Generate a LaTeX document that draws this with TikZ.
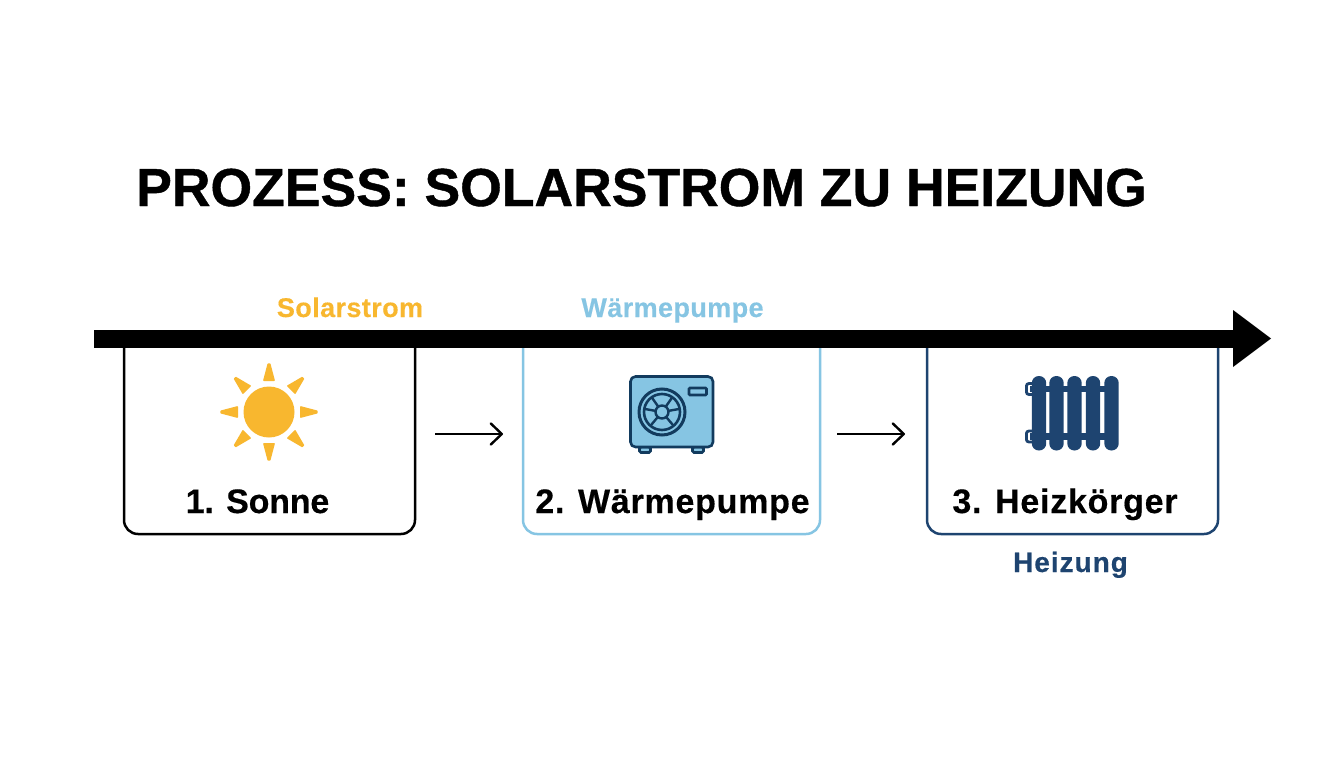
\documentclass[tikz,border=0pt]{standalone}
\usepackage{fontspec}
\setmainfont{Liberation Sans}
\usetikzlibrary{arrows.meta,calc}
\definecolor{sunc}{HTML}{F8B72F}
\definecolor{skyc}{HTML}{86C5E3}
\definecolor{navyc}{HTML}{1E4470}
\definecolor{deepc}{HTML}{123B5E}
\newfontface\titlef[FakeBold=0.8]{Liberation Sans Bold}
\newfontface\stepf[LetterSpace=2.2,FakeBold=0.4]{Liberation Sans Bold}
\newfontface\stepsf[LetterSpace=-0.6,FakeBold=0.4]{Liberation Sans Bold}
\newfontface\topf[LetterSpace=1.5,FakeBold=0.3]{Liberation Sans Bold}
\newfontface\heizf[LetterSpace=3.5,FakeBold=0.3]{Liberation Sans Bold}
\tikzset{
  boxslot/.style={minimum width=#1, minimum height=187pt, inner sep=0pt, outer sep=0pt},
  boxline/.style={line width=2.5pt, rounded corners=14pt},
  steplabel/.style={font=\stepf\fontsize{34}{34}\selectfont, text=black, inner sep=0pt, anchor=base},
  toplabel/.style={font=\topf\fontsize{27}{27}\selectfont, inner sep=0pt, anchor=base},
  smallarrow/.style={line width=2.4pt, -{Straight Barb[length=11pt,width=21pt,line width=2.4pt,round]}},
  ray/.style={fill=sunc, draw=sunc, line width=1.6pt, line join=round},
  pumpline/.style={draw=deepc, line width=2.6pt},
  radcol/.style={fill=navyc, rounded corners=7pt},
}
\begin{document}
\begin{tikzpicture}[x=1pt,y=-1pt]
\useasboundingbox (0,0) rectangle (1344,768);
\fill[white] (0,0) rectangle (1344,768);
\node[anchor=base west, inner sep=0pt, font=\titlef\fontsize{53.5}{53.5}\selectfont] (title) at (136,206) {PROZESS: SOLARSTROM ZU HEIZUNG};

% boxes
\node[boxslot=291pt] (b1) at (269.5,440.5) {};
\node[boxslot=297pt] (b2) at (671.5,440.5) {};
\node[boxslot=291pt] (b3) at (1072.5,440.5) {};
\draw[boxline, draw=black] (b1.north west) -- (b1.south west) -- (b1.south east) -- (b1.north east);
\draw[boxline, draw=skyc] (b2.north west) -- (b2.south west) -- (b2.south east) -- (b2.north east);
\draw[boxline, draw=navyc] (b3.north west) -- (b3.south west) -- (b3.south east) -- (b3.north east);

% main arrow
\coordinate (maintip) at (1271,338.5);
\fill[black] (94,330) rectangle (1233,347.5);
\fill[black] (1233,310) -- (maintip) -- (1233,367) -- cycle;

% small arrows
\draw[smallarrow] ([shift={(20,-6.5)}]b1.east) -- ([shift={(-20,-6.5)}]b2.west);
\draw[smallarrow] ([shift={(17,-6.5)}]b2.east) -- ([shift={(-22,-6.5)}]b3.west);

% sun
\fill[sunc] (269,412) circle (25.5);
\foreach \a in {0,45,...,315}{
  \begin{scope}[shift={(269,412)}, rotate=\a]
    \draw[ray] (31.8,-5) -- (47.8,-0.8) -- (47.8,0.8) -- (31.8,5) -- cycle;
  \end{scope}
}

% heat pump
\draw[pumpline, fill=skyc, rounded corners=1.5pt] (639.5,447) rectangle (650.5,452.5);
\draw[pumpline, fill=skyc, rounded corners=1.5pt] (692.5,447) rectangle (703.5,452.5);
\draw[pumpline, fill=skyc, rounded corners=5pt] (630.5,376.5) rectangle (713,447);
\draw[pumpline, rounded corners=1pt] (689,388) rectangle (706.5,395);
\draw[pumpline, line width=3pt] (662,412) circle (23);
\draw[pumpline] (662,412) circle (18);
\foreach \a in {50,130,190,235,305,350}{
  \draw[pumpline, line width=2.4pt] (662,412) ++(\a:6) -- ++(\a:12);
}
\draw[pumpline, line width=2.4pt, fill=skyc] (662,412) circle (6.5);

% radiator
\foreach \yy in {389,436.5}{
  \fill[navyc] (1030,\yy-3.3) rectangle (1112,\yy+3.3);
  \draw[navyc, line width=2.8pt, rounded corners=2.5pt] (1033,\yy-5.5) -- (1026.4,\yy-5.5) -- (1026.4,\yy+5.5) -- (1033,\yy+5.5);
}
\foreach \xx in {1039,1056.5,1074.5,1093,1111.5}{
  \fill[radcol] (\xx-7.2,376) rectangle (\xx+7.2,450.5);
}

% labels
\node[steplabel, font=\stepsf\fontsize{34}{34}\selectfont] (l1) at (257.5,513) {1. Sonne};
\node[steplabel] (l2) at (672.5,513) {2. Wärmepumpe};
\node[steplabel] (l3) at (1065,513) {3. Heizkörger};
\node[toplabel, text=sunc] (t1) at (350,317) {Solarstrom};
\node[toplabel, text=skyc] (t2) at (672.5,317) {Wärmepumpe};
\node[toplabel, text=navyc, font=\heizf\fontsize{28}{28}\selectfont] (t3) at (1070.5,572) {Heizung};
\end{tikzpicture}
\end{document}
